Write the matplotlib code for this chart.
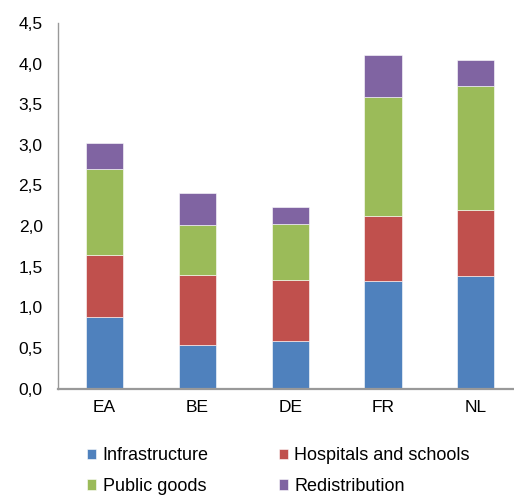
import matplotlib
matplotlib.use("Agg")
import matplotlib.pyplot as plt
import numpy as np
from matplotlib.ticker import FuncFormatter

# data
countries = ["EA", "BE", "DE", "FR", "NL"]
infrastructure = [0.88, 0.54, 0.59, 1.32, 1.39]
hospitals = [0.76, 0.86, 0.75, 0.80, 0.81]
public_goods = [1.06, 0.61, 0.69, 1.47, 1.53]
redistribution = [0.32, 0.40, 0.21, 0.52, 0.32]

series = [
    ("Infrastructure", infrastructure, "#4F81BD"),
    ("Hospitals and schools", hospitals, "#C0504D"),
    ("Public goods", public_goods, "#9BBB59"),
    ("Redistribution", redistribution, "#8064A2"),
]

plt.rcParams['font.family'] = ['Liberation Sans', 'DejaVu Sans']

fig = plt.figure(figsize=(5.14, 4.98), dpi=100)
ax = fig.add_axes([58 / 514, 109.5 / 498, (514 - 58) / 514, 365.5 / 498])

x = np.arange(len(countries))
bottom = np.zeros(len(countries))
handles = []
for name, vals, color in series:
    b = ax.bar(x, vals, width=0.4, bottom=bottom, color=color,
               edgecolor="white", linewidth=0.4, label=name)
    handles.append(b)
    bottom += np.array(vals)

ax.set_xlim(-0.5, 4.41)
ax.set_ylim(0, 4.5)
ax.set_yticks(np.arange(0, 4.51, 0.5))
ax.yaxis.set_major_formatter(FuncFormatter(lambda v, p: f"{v:.1f}".replace(".", ",")))
ax.set_xticks(x)
ax.set_xticklabels(countries)

for s in ["top", "right"]:
    ax.spines[s].set_visible(False)
ax.spines["left"].set_color("#999999")
ax.spines["left"].set_linewidth(1.0)
ax.spines["bottom"].set_color("#999999")
ax.spines["bottom"].set_linewidth(1.6)

ax.tick_params(axis="y", length=0, pad=11, labelsize=12.5, colors="black")
ax.tick_params(axis="x", length=0, pad=8, labelsize=12.5, colors="black")

# legend is filled column by column, so reorder to get rows as in the reference
order = [0, 2, 1, 3]
fig.legend(handles=[handles[i] for i in order], loc="upper left",
           bbox_to_anchor=(80 / 514, 1 - 440 / 498),
           ncol=2, frameon=False, fontsize=13, handlelength=0.5, handleheight=0.5,
           handletextpad=0.35, columnspacing=3.9, labelspacing=0.75, borderaxespad=0)

fig.savefig("out.png", dpi=100)
